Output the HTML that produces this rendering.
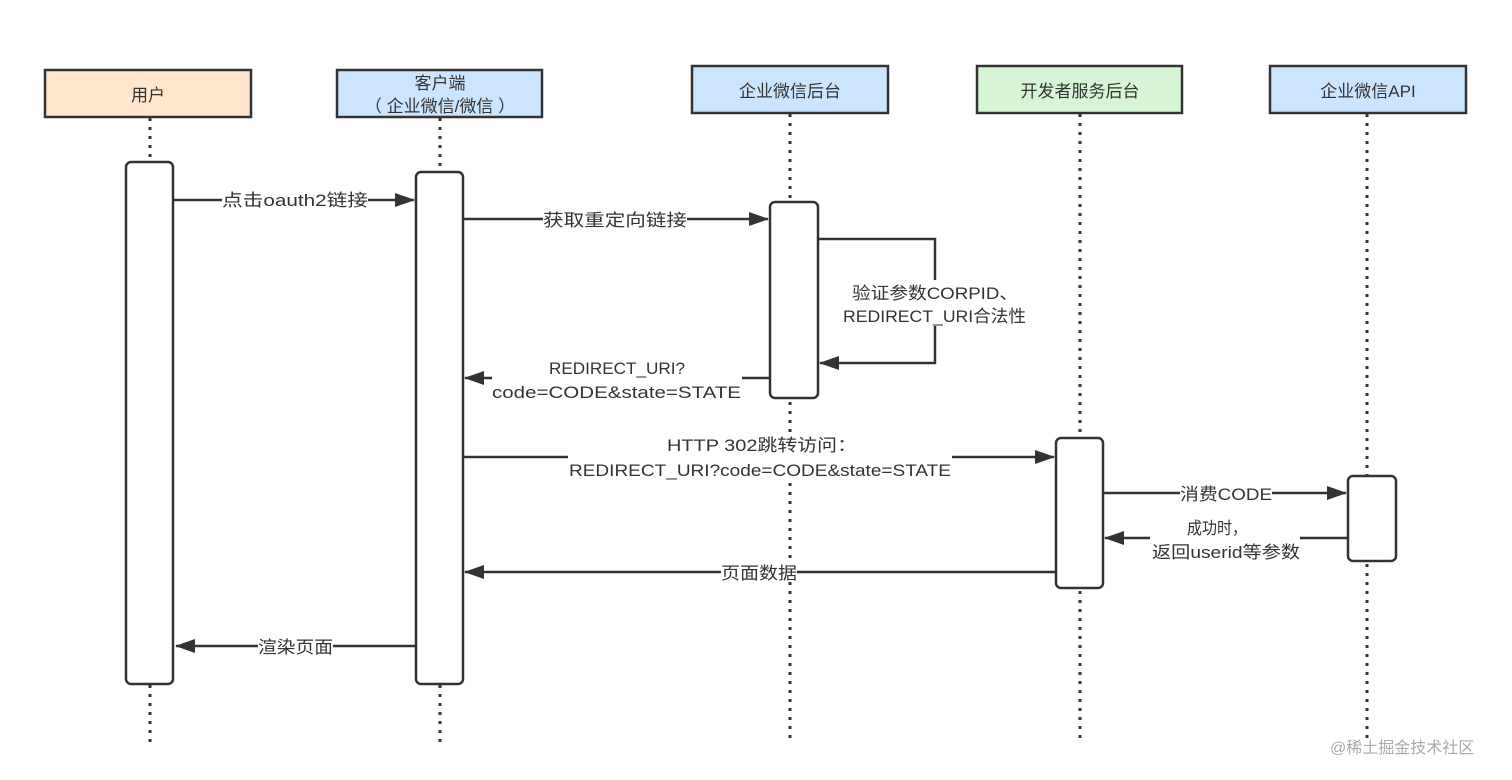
<!DOCTYPE html>
<html><head><meta charset="utf-8"><style>
html,body{margin:0;padding:0;background:#fff;}
svg{display:block;}
text{font-family:"Liberation Sans","Noto Sans CJK SC",sans-serif;font-size:17px;fill:#333;}
</style></head><body>
<svg width="1512" height="780" viewBox="0 0 1512 780" xmlns="http://www.w3.org/2000/svg">
<defs>
<marker id="a" markerWidth="20" markerHeight="14" refX="19" refY="7" orient="auto" markerUnits="userSpaceOnUse">
<path d="M0,0 L20,7 L0,14 Z" fill="#333"/>
</marker>
</defs>
<g stroke="#333" stroke-width="3" stroke-dasharray="3,6" fill="none">
<line x1="150" y1="118" x2="150" y2="742"/>
<line x1="440" y1="118" x2="440" y2="742"/>
<line x1="790" y1="114" x2="790" y2="742"/>
<line x1="1080" y1="114" x2="1080" y2="742"/>
<line x1="1367" y1="114" x2="1367" y2="742"/>
</g>
<g stroke="#333" stroke-width="2.5">
<rect x="45" y="70" width="206" height="47" fill="#ffe6cc"/>
<rect x="337" y="70" width="205" height="47" fill="#cce5ff"/>
<rect x="692" y="66" width="196" height="47" fill="#cce5ff"/>
<rect x="977" y="66" width="205" height="47" fill="#d5f5d5"/>
<rect x="1270" y="66" width="196" height="47" fill="#cce5ff"/>
</g>
<g text-anchor="middle">
<text x="148" y="101">用户</text>
<text x="440" y="89">客户端</text>
<text x="440" y="112">（ 企业微信/微信 ）</text>
<text x="790" y="97">企业微信后台</text>
<text x="1080" y="97">开发者服务后台</text>
<text x="1368" y="97">企业微信API</text>
</g>
<g stroke="#333" stroke-width="2.5" fill="#fff">
<rect x="126" y="162" width="47" height="522" rx="5"/>
<rect x="416" y="172" width="47" height="512" rx="5"/>
<rect x="770" y="202" width="48" height="196" rx="5"/>
<rect x="1056" y="438" width="47" height="150" rx="5"/>
<rect x="1348" y="476" width="48" height="85" rx="5"/>
</g>
<g stroke="#333" stroke-width="2.5" fill="none" marker-end="url(#a)">
<line x1="173" y1="200" x2="414" y2="200"/>
<line x1="463" y1="219" x2="768" y2="219"/>
<polyline points="818,239 935,239 935,363 820,363"/>
<line x1="770" y1="378" x2="465" y2="378"/>
<line x1="463" y1="457" x2="1054" y2="457"/>
<line x1="1103" y1="493" x2="1346" y2="493"/>
<line x1="1348" y1="538" x2="1105" y2="538"/>
<line x1="1056" y1="572" x2="465" y2="572"/>
<line x1="416" y1="646" x2="176" y2="646"/>
</g>
<g fill="#fff">
<rect x="222" y="190" width="146" height="20"/>
<rect x="543" y="209" width="144" height="20"/>
<rect x="843" y="280" width="184" height="46"/>
<rect x="492" y="356" width="250" height="46"/>
<rect x="568" y="432" width="384" height="48"/>
<rect x="1180" y="483" width="92" height="20"/>
<rect x="1150" y="516" width="150" height="46"/>
<rect x="721" y="562" width="76" height="20"/>
<rect x="258" y="636" width="75" height="20"/>
</g>
<g lengthAdjust="spacingAndGlyphs">
<text x="222" y="206" textLength="146" lengthAdjust="spacingAndGlyphs">点击oauth2链接</text>
<text x="543" y="226" textLength="144" lengthAdjust="spacingAndGlyphs">获取重定向链接</text>
<text x="852" y="299" textLength="166" lengthAdjust="spacingAndGlyphs">验证参数CORPID、</text>
<text x="843" y="322" textLength="183" lengthAdjust="spacingAndGlyphs">REDIRECT_URI合法性</text>
<text x="549" y="374" textLength="136" lengthAdjust="spacingAndGlyphs">REDIRECT_URI?</text>
<text x="492" y="398" textLength="249" lengthAdjust="spacingAndGlyphs">code=CODE&amp;state=STATE</text>
<text x="667" y="451" textLength="190" lengthAdjust="spacingAndGlyphs">HTTP 302跳转访问：</text>
<text x="569" y="476" textLength="382" lengthAdjust="spacingAndGlyphs">REDIRECT_URI?code=CODE&amp;state=STATE</text>
<text x="1180" y="500" textLength="92" lengthAdjust="spacingAndGlyphs">消费CODE</text>
<text x="1187" y="534" textLength="60" lengthAdjust="spacingAndGlyphs">成功时，</text>
<text x="1152" y="558" textLength="148" lengthAdjust="spacingAndGlyphs">返回userid等参数</text>
<text x="721" y="579" textLength="76" lengthAdjust="spacingAndGlyphs">页面数据</text>
<text x="258" y="653" textLength="75" lengthAdjust="spacingAndGlyphs">渲染页面</text>
</g>
<text x="1330" y="753" style="font-size:16px;fill:#aaa;">@稀土掘金技术社区</text>
</svg>
</body></html>
